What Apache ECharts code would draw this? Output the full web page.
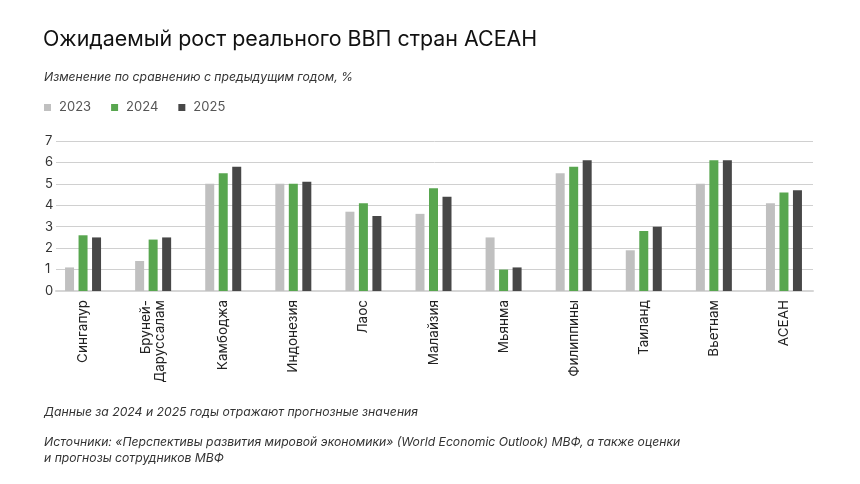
<!DOCTYPE html>
<html>
<head>
<meta charset="utf-8">
<script src="https://cdn.jsdelivr.net/npm/echarts@6/dist/echarts.min.js"></script>
<style>
	html, body { margin: 0; padding: 0; background: #fff; }
	#main { width: 860px; height: 484px; }
</style>
</head>
<body>
<div id="main"></div>
<script>
// данные
var countries = ['Сингапур', 'Бруней-\nДаруссалам', 'Камбоджа', 'Индонезия', 'Лаос', 'Малайзия', 'Мьянма', 'Филиппины', 'Таиланд', 'Вьетнам', 'АСЕАН'];
var years = ['2023', '2024', '2025'];
var values2023 = [1.1, 1.4, 5.0, 5.0, 3.7, 3.6, 2.5, 5.5, 1.9, 5.0, 4.1];
var values2024 = [2.6, 2.4, 5.5, 5.0, 4.1, 4.8, 1.0, 5.8, 2.8, 6.1, 4.6];
var values2025 = [2.5, 2.5, 5.8, 5.1, 3.5, 4.4, 1.1, 6.1, 3.0, 6.1, 4.7];
var yTicks = [0, 1, 2, 3, 4, 5, 6, 7];

var colors = ['#c0c0c0', '#58a64f', '#474747'];
var fontName = 'Inter';

var myChart = echarts.init(document.getElementById('main'));

var seriesData = [values2023, values2024, values2025];
var series = [];
years.forEach(function(year, i) {
	series.push({
		name: year,
		type: 'bar',
		xAxisIndex: 1,
		yAxisIndex: 1,
		barWidth: 9,
		barGap: '50%',
		itemStyle: { color: colors[i] },
		data: seriesData[i]
	});
});

var noteStyle = { fontSize: 12.2, fontWeight: 'normal', fontStyle: 'italic', color: '#333', fontFamily: fontName, lineHeight: 16 };

var option = {
	animation: false,
	textStyle: { fontFamily: fontName },
	title: [
		{
			text: 'Ожидаемый рост реального ВВП стран АСЕАН',
			left: 38, top: 24,
			textStyle: { fontSize: 21.4, fontWeight: 'normal', color: '#111', fontFamily: fontName }
		},
		{ text: 'Изменение по сравнению с предыдущим годом, %', left: 39, top: 64, textStyle: noteStyle },
		{ text: 'Данные за 2024 и 2025 годы отражают прогнозные значения', left: 39, top: 399, textStyle: noteStyle },
		{
			text: 'Источники: «Перспективы развития мировой экономики» (World Economic Outlook) МВФ, а также оценки\nи прогнозы сотрудников МВФ',
			left: 39, top: 429,
			textStyle: noteStyle
		}
	],
	legend: {
		data: years,
		left: 39, top: 96,
		icon: 'rect',
		itemWidth: 7, itemHeight: 7,
		itemGap: 20,
		textStyle: { fontSize: 13, color: '#555', fontFamily: fontName, padding: [0, 0, 0, 3] }
	},
	grid: [
		// сетка и подписи оси Y
		{ left: 56, right: 47, top: 141, height: 150 },
		// столбцы
		{ left: 48, width: 771, top: 141, height: 150 }
	],
	xAxis: [
		{
			gridIndex: 0,
			type: 'category',
			data: countries,
			axisLine: { lineStyle: { color: '#d6d6d6', width: 2 } },
			axisTick: { show: false },
			axisLabel: { show: false }
		},
		{
			gridIndex: 1,
			type: 'category',
			data: countries,
			axisLine: { show: false },
			axisTick: { show: false },
			axisLabel: {
				rotate: 90,
				margin: 9,
				fontSize: 13.5,
				color: '#222',
				lineHeight: 14,
				fontFamily: fontName
			}
		}
	],
	yAxis: [
		{
			gridIndex: 0,
			type: 'value',
			min: yTicks[0],
			max: yTicks[yTicks.length - 1],
			interval: 1,
			axisLine: { show: false },
			axisTick: { show: false },
			splitLine: { lineStyle: { color: '#d0d0d0', width: 1 } },
			axisLabel: { margin: 11, fontSize: 13, color: '#333', align: 'left', fontFamily: fontName }
		},
		{
			gridIndex: 1,
			type: 'value',
			min: yTicks[0],
			max: yTicks[yTicks.length - 1],
			interval: 1,
			show: false
		}
	],
	series: series
};

myChart.setOption(option);
</script>
</body>
</html>
